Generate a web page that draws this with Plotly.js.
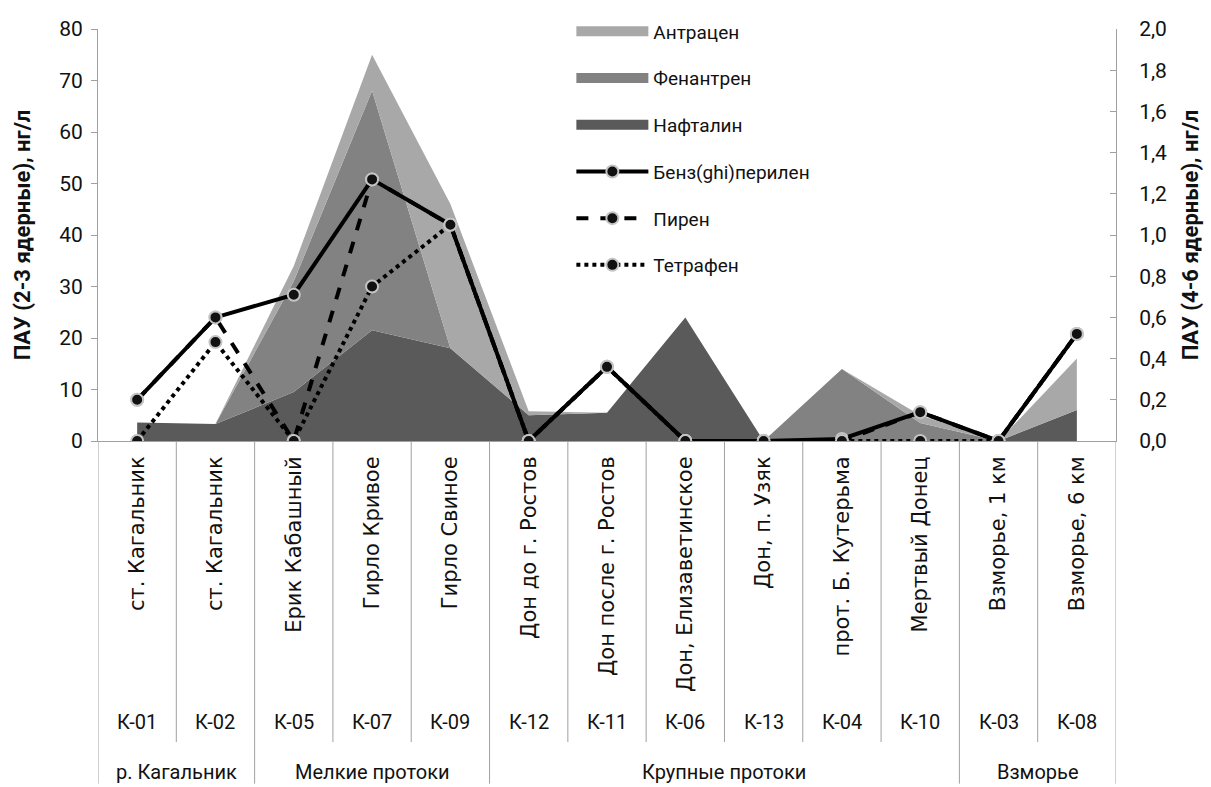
<!DOCTYPE html>
<html>
<head>
<meta charset="utf-8">
<script src="https://cdn.plot.ly/plotly-3.0.1.min.js"></script>
<style>html,body{margin:0;padding:0;background:#fff;}#chart{width:1211px;height:787px;}</style>
</head>
<body>
<div id="chart"></div>
<script>
// ---- data ----
const stations = ["ст. Кагальник","ст. Кагальник","Ерик Кабашный","Гирло Кривое","Гирло Свиное","Дон до г. Ростов","Дон после г. Ростов","Дон, Елизаветинское","Дон, п. Узяк","прот. Б. Кутерьма","Мертвый Донец","Взморье, 1 км","Взморье, 6 км"];
const codes = ["К-01","К-02","К-05","К-07","К-09","К-12","К-11","К-06","К-13","К-04","К-10","К-03","К-08"];
const groupNames = ["р. Кагальник","Мелкие протоки","Крупные протоки","Взморье"];
const groupFirst = [0,2,5,11];
const groupLast  = [1,4,10,12];

// 2-3 ring PAH, ng/l (stacked areas, left axis)
const naphthalene  = [3.6,3.3,9.5,21.5,18,5,5.5,24,0,0,0,0,6];
const phenanthrene = [0,0,21.5,46.5,0,0,0,0,0,14,3.5,0,0];
const anthracene   = [0,0,3,7,28,0.8,0,0,0,0,1.5,0,10];

// 4-6 ring PAH, ng/l (lines, right axis)
const benzoperylene = [0.2,0.6,0.71,1.27,1.05,0,0.36,0,0,0.01,0.14,0,0.52];
const pyrene        = [0.2,0.6,0,1.27,1.05,0,0.36,0,0,0,0.14,0,0.52];
const tetraphene    = [0,0.48,0,0.75,1.05,0,0.36,0,0,0,0,0,0.52];

const xs = stations.map((_, i) => i);
const FONT = "Roboto, 'Open Sans', sans-serif";
const FONT_WIDE = "'DejaVu Sans', 'Open Sans', sans-serif";
const TXT = '#111';

function area(name, y, color) {
  return {x: xs, y: y, name: name, type: 'scatter', mode: 'lines',
    stackgroup: 'one', fillcolor: color, line: {width: 0, color: color},
    showlegend: false, hoverinfo: 'skip'};
}
// legend swatch for an area series (no data of its own)
function swatch(name, color, rank) {
  return {x: [null], y: [null], name: name, type: 'scatter', mode: 'lines',
    line: {width: 16, color: color}, legendgroup: name, legendrank: rank, hoverinfo: 'skip'};
}
function line(name, y, dash, rank) {
  return {x: xs, y: y, name: name, type: 'scatter', mode: 'lines+markers', yaxis: 'y2',
    line: {color: '#000', width: 4, dash: dash},
    marker: {size: 12, color: '#111', line: {color: '#c4c4c4', width: 2}},
    legendgroup: name, legendrank: rank, hoverinfo: 'skip'};
}

const C_NAPH = '#5a5a5a', C_PHEN = '#828282', C_ANTH = '#a8a8a8';
const traces = [
  area('Нафталин', naphthalene, C_NAPH),
  area('Фенантрен', phenanthrene, C_PHEN),
  area('Антрацен', anthracene, C_ANTH),
  swatch('Антрацен', C_ANTH, 1),
  swatch('Фенантрен', C_PHEN, 2),
  swatch('Нафталин', C_NAPH, 3),
  line('Бенз(ghi)перилен', benzoperylene, 'solid', 4),
  line('Пирен', pyrene, 'dash', 5),
  line('Тетрафен', tetraphene, 'dot', 6)
];

// category dividers and lower label rows
const plotBottom = 441, plotH = 416;
const py = p => (plotBottom - p) / plotH;
const shapes = [];
const groupBounds = new Set([-0.5, 12.5]);
groupFirst.forEach(g => groupBounds.add(g - 0.5));
for (let i = 0; i <= stations.length; i++) {
  const b = i - 0.5;
  const full = groupBounds.has(b);
  shapes.push({type: 'line', xref: 'x', yref: 'paper', x0: b, x1: b,
    y0: 0, y1: full ? py(787) : py(745), line: {color: '#a0a0a0', width: 1}});
}
const annotations = [];
codes.forEach((c, i) => annotations.push({x: i, xref: 'x', y: py(725), yref: 'paper', yanchor: 'middle',
  text: c, showarrow: false, font: {family: FONT, size: 20, color: TXT}}));
groupNames.forEach((g, k) => annotations.push({x: (groupFirst[k] + groupLast[k]) / 2, xref: 'x',
  y: py(775), yref: 'paper', yanchor: 'middle', text: g, showarrow: false,
  font: {family: FONT, size: 20, color: TXT}}));

const layout = {
  width: 1211, height: 787,
  margin: {l: 98, r: 95, t: 25, b: 346},
  paper_bgcolor: '#fff', plot_bgcolor: '#fff',
  separators: ', ',
  font: {family: FONT, size: 19, color: TXT},
  showlegend: true,
  legend: {x: 0.465, y: 1.04, xanchor: 'left', yanchor: 'top', bgcolor: 'rgba(0,0,0,0)',
    font: {family: FONT, size: 19, color: TXT}, tracegroupgap: 19, itemwidth: 72},
  xaxis: {range: [-0.5, 12.5], tickvals: xs, ticktext: stations, tickangle: -90,
    showgrid: false, zeroline: false, showline: true, linecolor: '#a0a0a0', linewidth: 1,
    ticks: '', ticklabelstandoff: 6, tickfont: {family: FONT_WIDE, size: 21, color: TXT}, fixedrange: true},
  yaxis: {range: [0, 80], dtick: 10, showgrid: false, zeroline: false, showline: true,
    linecolor: '#a0a0a0', ticks: 'outside', ticklen: 6, tickcolor: '#a0a0a0', ticklabelstandoff: 4,
    tickfont: {family: FONT, size: 21, color: TXT},
    title: {text: '<b>ПАУ (2-3 ядерные), нг/л</b>', font: {family: FONT, size: 22, color: TXT}, standoff: 22}},
  yaxis2: {range: [0, 2], dtick: 0.2, tickformat: '.1f', overlaying: 'y', side: 'right',
    showgrid: false, zeroline: false, showline: true, linecolor: '#a0a0a0', ticks: 'inside',
    ticklen: 6, tickcolor: '#a0a0a0', ticklabelstandoff: 18, tickfont: {family: FONT, size: 21, color: TXT},
    title: {text: '<b>ПАУ (4-6 ядерные), нг/л</b>', font: {family: FONT, size: 22, color: TXT}, standoff: 16}},
  shapes: shapes,
  annotations: annotations
};

Plotly.newPlot('chart', traces, layout, {displayModeBar: false, staticPlot: true});
</script>
</body>
</html>
